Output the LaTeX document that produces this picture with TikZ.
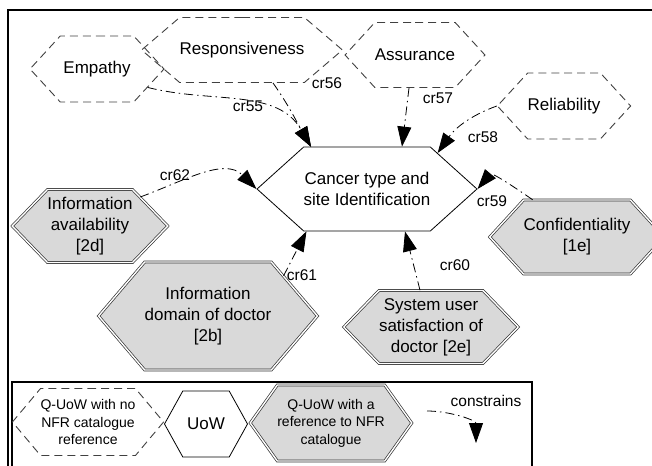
\documentclass[tikz,border=0pt]{standalone}
\usepackage{fontspec}
\setmainfont{Liberation Sans}
\usetikzlibrary{shapes.symbols,arrows.meta}

\begin{document}
\begin{tikzpicture}[x=1pt, y=-1pt,
hexa/.style={signal, signal to=east and west, signal pointer angle=#1, inner sep=0pt, align=center, font=\fontsize{17}{21}\selectfont, line width=0.8pt},
hexa/.default=90,
qsoft/.style={hexa=#1, draw=black!75, line width=0.9pt, dash pattern=on 8pt off 5pt},
qsoft/.default=95,
uow/.style={hexa=#1, draw},
uow/.default=84,
qref/.style={hexa=#1, draw=black!80, fill=gray!30, double=white, double distance=1.4pt, line width=0.7pt},
qref/.default=92,
crlink/.style={line width=0.8pt, dash pattern=on 9pt off 4pt on 1.5pt off 4pt, -{Triangle[length=20pt,width=14pt]}},
lbl/.style={font=\fontsize{15.5}{18}\selectfont, inner sep=0pt},
legtext/.style={font=\fontsize{14}{17.5}\selectfont}]
\useasboundingbox (0,0) rectangle (652,465);
\draw[line width=1.6pt] (8,10) rectangle (700,520);

% soft goals without a catalogue reference
\node[qsoft, minimum width=134pt, minimum height=66pt] (empathy) at (97,69) {Empathy};
\node[qsoft=81, minimum width=161pt, minimum height=65pt] (respons) at (242,50) {Responsiveness};
\node[qsoft, minimum width=124pt, minimum height=65pt] (assur) at (415,55) {Assurance};
\node[qsoft, minimum width=122pt, minimum height=66pt] (reliab) at (564,106) {Reliability};

% the unit of work
\node[uow, minimum width=190pt, minimum height=84pt] (cancer) at (367,189) {Cancer type and\\site Identification};

% soft goals with a catalogue reference
\node[qref, minimum width=150pt, minimum height=73pt] (infoavail) at (90,226) {Information\\availability\\{[2d]}};
\node[qref=99, minimum width=187pt, minimum height=108pt] (infodomain) at (208,316) {Information\\domain of doctor\\{[2b]}};
\node[qref, minimum width=166pt, minimum height=73pt] (sysuser) at (431,327) {System user\\satisfaction of\\doctor [2e]};
\node[qref=95, minimum width=145pt, minimum height=74pt] (confid) at (577,237) {Confidentiality\\{[1e]}};

% constraint links
\draw[crlink] (empathy.-20) to[out=-14, in=120] (cancer.143);
\draw[crlink] ([xshift=31pt]respons.south) to[out=-55, in=120] (cancer.143);
\draw[crlink] ([xshift=-6pt]assur.south) -- ([xshift=35pt]cancer.north);
\draw[crlink] (reliab.west) to[out=200, in=55] (cancer.27);
\draw[crlink] (confid.140) to[out=145, in=50] (cancer.east);
\draw[crlink] ([xshift=-11pt]sysuser.north) -- ([xshift=38pt]cancer.south);
\draw[crlink] (infodomain.28) -- (cancer.215);
\draw[crlink] (infoavail.30) to[out=20, in=135] (cancer.west);

\node[lbl] (l55) at (248,106) {cr55};
\node[lbl] (l56) at (327,83) {cr56};
\node[lbl] (l57) at (438,98) {cr57};
\node[lbl] (l58) at (483,137) {cr58};
\node[lbl] (l59) at (492,201) {cr59};
\node[lbl] (l60) at (455,265) {cr60};
\node[lbl] (l61) at (302,275) {cr61};
\node[lbl] (l62) at (175,175) {cr62};

% legend
\draw[line width=1.2pt] (12,382) rectangle (532,520);
\node[qsoft=100, legtext, minimum width=133pt, minimum height=67pt] (keyq) at (88,422) {Q-UoW with no\\NFR catalogue\\reference};
\node[uow=122, minimum width=83pt, minimum height=66pt] (keyuow) at (206,424) {UoW};
\node[qref=109, legtext, minimum width=152pt, minimum height=76pt] (keyref) at (331,423) {Q-UoW with a\\reference to NFR\\catalogue};
\node[lbl] (keycr) at (486,401) {constrains};
\coordinate (keyfrom) at (427,411);
\coordinate (keyto) at (476,443);
\draw[crlink] (keyfrom) to[out=0, in=90] (keyto);
\end{tikzpicture}
\end{document}
